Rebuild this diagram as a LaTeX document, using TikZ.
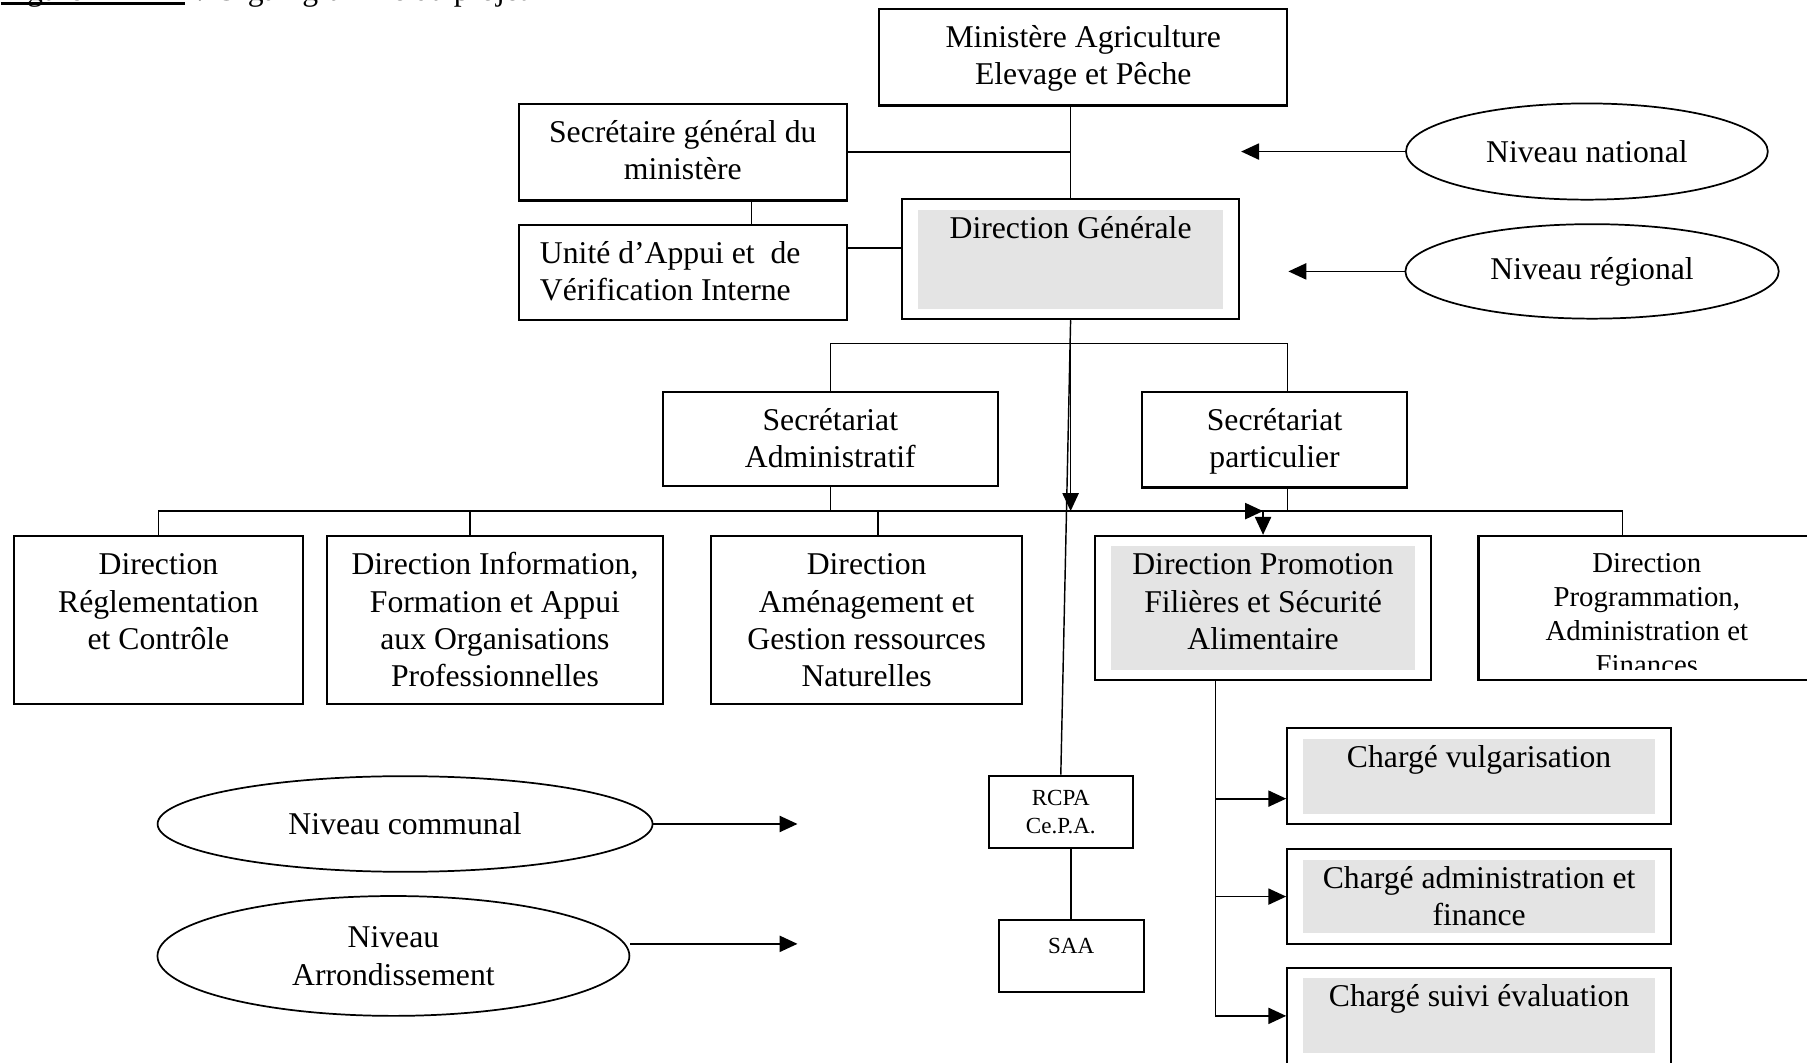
\documentclass[tikz,border=0pt]{standalone}
\usepackage{fontspec}
\setmainfont{Liberation Serif}
\usetikzlibrary{positioning,arrows.meta,shapes.geometric}
\definecolor{panelgrey}{RGB}{228,228,228}
\tikzset{
  link/.style={line width=0.5pt},
  arrowline/.style={-{Triangle[length=6.2pt,width=5.6pt]}, line width=0.6pt},
  box/.style={draw, line width=0.75pt, inner sep=0pt},
  greybox/.style={box, path picture={\fill[panelgrey] ([shift={(5.6pt,-3.6pt)}]path picture bounding box.north west) rectangle ([shift={(-5.6pt,3.6pt)}]path picture bounding box.south east);}},
  niveau/.style={draw, ellipse, line width=0.6pt, inner sep=0pt, align=center, font=\fontsize{11}{13}\selectfont},
  txt/.style={align=center, inner sep=0pt, font=\fontsize{11}{13}\selectfont},
  smalltxt/.style={txt, font=\fontsize{10}{11.8}\selectfont},
  tinytxt/.style={txt, font=\fontsize{8}{9.8}\selectfont}
}

\begin{document}
\begin{tikzpicture}[x=0.4pt, y=-0.4pt]
  \useasboundingbox (0,0) rectangle (1568,922);
  \clip (0,0) rectangle (1568,922);

  % caption, cut by the page edge
  \node[txt, anchor=base west] (caption) at (0,0) {\rlap{\rule[-1.6pt]{64pt}{0.8pt}}Figure n°\,1\hspace{19pt}: Organigramme du projet};

  % national level
  \node[box, minimum width=141.6pt, minimum height=33.6pt] (min) at (940,49.5) {};
  \node[txt, below=4.5pt of min.north] (min-t) {\strut Ministère Agriculture\\Elevage et Pêche};
  \node[box, minimum width=114pt, minimum height=33.6pt] (sg) at (592.5,132) {};
  \node[txt, below=4.5pt of sg.north] (sg-t) {\strut Secrétaire général du\\ministère};
  \node[box, minimum width=114pt, minimum height=33.2pt] (uavi) at (592.5,236.5) {};
  \node[txt, align=left, anchor=north west] (uavi-t) at ([shift={(7.6pt,-4.5pt)}]uavi.north west) {\strut Unité d’Appui et \ de\\Vérification Interne};
  \node[greybox, minimum width=116.8pt, minimum height=41.6pt] (dg) at (929,225) {};
  \node[txt, below=4.5pt of dg.north] (dg-t) {\strut Direction Générale};

  \node[niveau, minimum width=125.6pt, minimum height=33.4pt] (nat) at (1377,131.5) {Niveau national};
  \node[niveau, minimum width=129.6pt, minimum height=32.8pt] (reg) at (1381.5,235.5) {Niveau régional};
  \coordinate (nat-end) at (1077,131.5);
  \coordinate (reg-end) at (1118,235.5);

  % secretariats
  \node[box, minimum width=116.4pt, minimum height=32.8pt] (sa) at (720.5,381) {};
  \node[txt, below=4.5pt of sa.north] (sa-t) {\strut Secrétariat\\Administratif};
  \node[box, minimum width=92pt, minimum height=33.2pt] (sp) at (1106,381.5) {};
  \node[txt, below=4.5pt of sp.north] (sp-t) {\strut Secrétariat\\particulier};

  % directions
  \node[box, minimum width=100.4pt, minimum height=58.4pt] (drc) at (137.5,538) {};
  \node[txt, below=4.5pt of drc.north] (drc-t) {\strut Direction\\Réglementation\\et Contrôle};
  \node[box, minimum width=116.4pt, minimum height=58.4pt] (dif) at (429.5,538) {};
  \node[txt, below=4.5pt of dif.north] (dif-t) {\strut Direction Information,\\Formation et Appui\\aux Organisations\\Professionnelles};
  \node[box, minimum width=108pt, minimum height=58.4pt] (dag) at (752,538) {};
  \node[txt, below=4.5pt of dag.north] (dag-t) {\strut Direction\\Aménagement et\\Gestion ressources\\Naturelles};
  \node[greybox, minimum width=116.8pt, minimum height=50pt] (dpf) at (1096,527.5) {};
  \node[txt, below=4.5pt of dpf.north] (dpf-t) {\strut Direction Promotion\\Filières et Sécurité\\Alimentaire};
  \node[box, minimum width=116.8pt, minimum height=50pt] (dpaf) at (1429,527.5) {};
  \begin{scope}
    \clip (dpaf.north west) rectangle ([yshift=4pt]dpaf.south east);
    \node[smalltxt, below=4.5pt of dpaf.north] (dpaf-t) {\strut Direction\\Programmation,\\Administration et\\Finances};
  \end{scope}

  % communal level
  \node[box, tinytxt, minimum width=50pt, minimum height=25.2pt] (rcpa) at (920.5,704.5) {RCPA\\Ce.P.A.};
  \node[box, minimum width=50.4pt, minimum height=24.8pt] (saa) at (929.5,829.5) {};
  \node[tinytxt, below=4.7pt of saa.north] (saa-t) {\strut SAA};

  \node[niveau, minimum width=171.8pt, minimum height=33.2pt] (com) at (351.5,715) {Niveau communal};
  \node[niveau, minimum width=163.8pt, minimum height=41.6pt] (arr) at (341.4,829.5) {Niveau\\Arrondissement};
  \coordinate (com-end) at (692,715);
  \coordinate (arr-end) at (692,819);

  \node[greybox, minimum width=133.2pt, minimum height=33.2pt] (cv) at (1283.5,673.5) {};
  \node[txt, below=4.5pt of cv.north] (cv-t) {\strut Chargé vulgarisation};
  \node[greybox, minimum width=133.2pt, minimum height=32.8pt] (cad) at (1283.5,778) {};
  \node[txt, below=4.5pt of cad.north] (cad-t) {\strut Chargé administration et\\finance};
  \node[greybox, minimum width=133.2pt, minimum height=33.2pt] (cse) at (1283.5,881.5) {};
  \node[txt, below=4.5pt of cse.north] (cse-t) {\strut Chargé suivi évaluation};

  % connectors
  \coordinate (busA) at (929,298);
  \coordinate (busB) at (929,443.5);
  \coordinate (sg-d) at ([xshift=23.8pt]sg.south);
  \coordinate (uavi-r) at ([yshift=8.6pt]uavi.east);
  \coordinate (sp-d) at ([xshift=4.4pt]sp.south);
  \coordinate (sp-u) at ([xshift=4.4pt]sp.north);
  \coordinate (dif-u) at ([xshift=-8.6pt]dif.north);
  \coordinate (dag-u) at ([xshift=4pt]dag.north);
  \coordinate (dpaf-u) at ([xshift=-8.4pt]dpaf.north);
  \coordinate (trunk) at ([xshift=-16.6pt]dpf.south);
  \coordinate (cv-in) at ([yshift=-7.8pt]cv.west);

  \draw[link] (dg.north |- min.south) -- (dg.north);
  \draw[link] (sg.east) -- (sg.east -| dg.north);
  \draw[link] (sg-d) -- (sg-d |- uavi.north);
  \draw[link] (uavi-r) -- (uavi-r -| dg.west);
  \draw[arrowline] (nat.west) -- (nat-end);
  \draw[arrowline] (reg.west) -- (reg-end);

  \draw[link] (dg.south) -- (busA);
  \draw[link] (sa.north) |- (busA) -| (sp-u);
  \draw[arrowline] (dg.south) -- (busB);
  \draw[link] (dg.south) -- (rcpa.north);
  \draw[link] (drc.north) |- (busB) -| (dpaf-u);
  \draw[link] (sa.south) -- (sa.south |- busB);
  \draw[link] (sp-d) -- (sp-d |- busB);
  \draw[link] (dif-u) -- (dif-u |- busB);
  \draw[link] (dag-u) -- (dag-u |- busB);
  \draw[arrowline] (busB) -- (busB -| dpf.north);
  \draw[arrowline] (busB -| dpf.north) -- (dpf.north);

  \draw[link] (saa.north |- rcpa.south) -- (saa.north);
  \draw[arrowline] (com.east) -- (com-end);
  \draw[arrowline] (arr.east |- arr-end) -- (arr-end);

  \draw[link] (trunk) -- (trunk |- cse.west);
  \draw[arrowline] (trunk |- cv-in) -- (cv-in);
  \draw[arrowline] (trunk |- cad.west) -- (cad.west);
  \draw[arrowline] (trunk |- cse.west) -- (cse.west);
\end{tikzpicture}
\end{document}
